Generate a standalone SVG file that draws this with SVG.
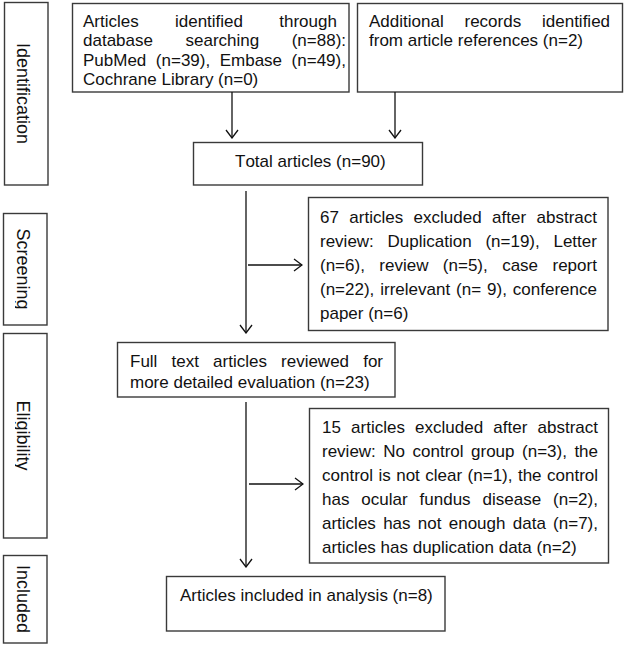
<svg xmlns="http://www.w3.org/2000/svg" width="625" height="646" viewBox="0 0 625 646">
<style>
.box{fill:#fff;stroke:#3a3a3a;stroke-width:1.4}
.t{font-family:"Liberation Sans",Arial,sans-serif;font-size:17px;fill:#111;font-kerning:none}
.side{font-family:"Liberation Sans",Arial,sans-serif;font-size:18px;fill:#111;font-kerning:none}
.conn{fill:none;stroke:#111;stroke-width:1.3}
</style>
<defs>
<marker id="arr" viewBox="0 0 10 14" markerWidth="10" markerHeight="14" refX="9" refY="7" orient="auto" markerUnits="userSpaceOnUse">
<path d="M1,1 L9,7 L1,13" fill="none" stroke="#111" stroke-width="1.3"/>
</marker>
<clipPath id="desc"><rect x="15" y="0" width="40" height="646"/></clipPath>
</defs>
<rect width="625" height="646" fill="#fff"/>

<g id="stage-identification">
<rect class="box" x="4.5" y="2.5" width="43.5" height="182.5"/>
<g clip-path="url(#desc)"><text class="side" text-anchor="middle" transform="translate(17,93.5) rotate(90)">Identification</text></g>
</g>
<g id="stage-screening">
<rect class="box" x="3.5" y="213.5" width="43.5" height="111.5"/>
<g clip-path="url(#desc)"><text class="side" text-anchor="middle" transform="translate(17,269) rotate(90)">Screening</text></g>
</g>
<g id="stage-eligibility">
<rect class="box" x="3.5" y="333.5" width="43.5" height="204.5"/>
<g clip-path="url(#desc)"><text class="side" text-anchor="middle" transform="translate(17,435.5) rotate(90)">Eligibility</text></g>
</g>
<g id="stage-included">
<rect class="box" x="3.5" y="555.5" width="43.5" height="87.5"/>
<g clip-path="url(#desc)"><text class="side" text-anchor="middle" transform="translate(17,599) rotate(90)">Included</text></g>
</g>

<g id="node-database">
<rect class="box" x="72.5" y="3.5" width="276.5" height="88.5"/>
<text class="t" x="83" y="26.5" style="word-spacing:31.5px">Articles identified through</text>
<text class="t" x="83" y="46" style="word-spacing:27.8px">database searching (n=88):</text>
<text class="t" x="83" y="65.5" style="word-spacing:4.8px">PubMed (n=39), Embase (n=49),</text>
<text class="t" x="83" y="85">Cochrane Library (n=0)</text>
</g>
<g id="node-additional">
<rect class="box" x="357.5" y="3.5" width="265" height="88.5"/>
<text class="t" x="369" y="26.5" style="word-spacing:16.1px">Additional records identified</text>
<text class="t" x="369" y="46">from article references (n=2)</text>
</g>
<g id="node-total">
<rect class="box" x="193.5" y="142.5" width="229" height="42.5"/>
<text class="t" x="235" y="166.5">Total articles (n=90)</text>
</g>
<g id="node-excluded1">
<rect class="box" x="308.5" y="197.5" width="299.5" height="133"/>
<text class="t" x="320" y="222.5" style="word-spacing:5.7px">67 articles excluded after abstract</text>
<text class="t" x="320" y="246.5" style="word-spacing:9px">review: Duplication (n=19), Letter</text>
<text class="t" x="320" y="270.5" style="word-spacing:9.7px">(n=6), review (n=5), case report</text>
<text class="t" x="320" y="294.5" style="word-spacing:1.2px">(n=22), irrelevant (n= 9), conference</text>
<text class="t" x="320" y="318.5">paper (n=6)</text>
</g>
<g id="node-fulltext">
<rect class="box" x="117.5" y="342.5" width="277.5" height="54.5"/>
<text class="t" x="130" y="366.5" style="word-spacing:9.4px">Full text articles reviewed for</text>
<text class="t" x="130" y="387.5">more detailed evaluation (n=23)</text>
</g>
<g id="node-excluded2">
<rect class="box" x="309.5" y="408.5" width="299" height="154.5"/>
<text class="t" x="322" y="432.5" style="word-spacing:5.45px">15 articles excluded after abstract</text>
<text class="t" x="322" y="456.5" style="word-spacing:2.76px">review: No control group (n=3), the</text>
<text class="t" x="322" y="480.5" style="word-spacing:0.73px">control is not clear (n=1), the control</text>
<text class="t" x="322" y="504.5" style="word-spacing:7.2px">has ocular fundus disease (n=2),</text>
<text class="t" x="322" y="528.5" style="word-spacing:2.56px">articles has not enough data (n=7),</text>
<text class="t" x="322" y="552.5">articles has duplication data (n=2)</text>
</g>
<g id="node-included">
<rect class="box" x="166.5" y="576.5" width="278.5" height="54.5"/>
<text class="t" x="180" y="600.5">Articles included in analysis (n=8)</text>
</g>

<g id="connectors">
<path class="conn" d="M232,92 V138" marker-end="url(#arr)"/>
<path class="conn" d="M395,92 V138" marker-end="url(#arr)"/>
<path class="conn" d="M246,191 V333" marker-end="url(#arr)"/>
<path class="conn" d="M248,265 H302" marker-end="url(#arr)"/>
<path class="conn" d="M246,402 V567" marker-end="url(#arr)"/>
<path class="conn" d="M249,484 H303" marker-end="url(#arr)"/>
</g>
</svg>
